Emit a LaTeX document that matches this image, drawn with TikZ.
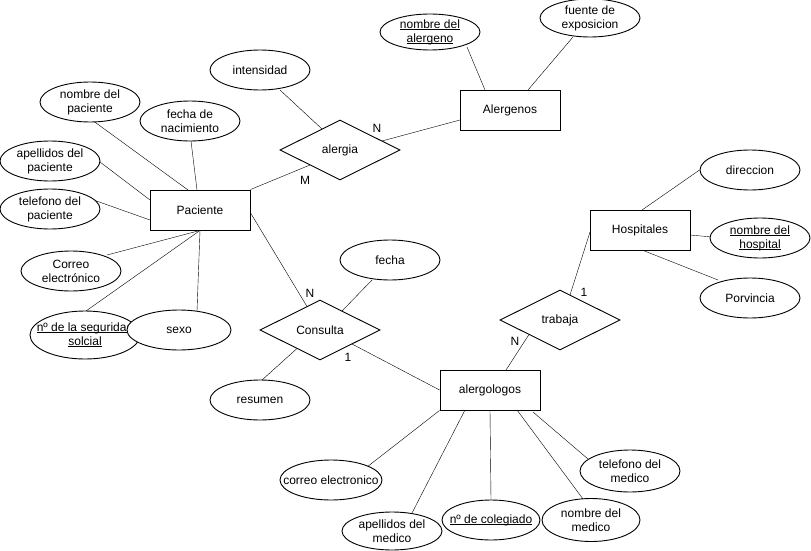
\documentclass[tikz,border=0pt]{standalone}
\usepackage{fontspec}
\setmainfont{Liberation Sans}
\usetikzlibrary{shapes.geometric,backgrounds}
\newsavebox\myulbox
\newcommand\ulx[1]{\sbox\myulbox{#1}\rlap{\rule[-1.8pt]{\wd\myulbox}{0.8pt}}\usebox\myulbox}
\newcommand\fsz{\fontsize{12}{14}\selectfont}
\tikzset{
  ent/.style={draw, rectangle, minimum width=100pt, minimum height=40pt, inner sep=0pt, fill=white, font=\fsz},
  att/.style={draw, ellipse, minimum width=100pt, minimum height=40pt, inner sep=0pt, fill=white},
  rel/.style={draw, diamond, minimum width=120pt, minimum height=60pt, inner sep=0pt, fill=white, font=\fsz},
  lbl/.style={align=center, font=\fsz, inner sep=0pt},
  card/.style={font=\fsz, inner sep=0pt}
}
\begin{document}
\begin{tikzpicture}[x=1pt, y=-1pt, line width=0.9pt]
\useasboundingbox (0,0) rectangle (811,551);
% entities
\node[ent] (pac) at (200,210) {Paciente};
\node[ent] (ale) at (510,110) {Alergenos};
\node[ent] (hos) at (640,230) {Hospitales};
\node[ent] (alg) at (490,390) {alergologos};
% relations
\node[rel] (alergia) at (340,150) {alergia};
\node[rel] (cons) at (320,330) {Consulta};
\node[rel] (trab) at (560,320) {trabaja};
% attributes of Paciente
\node[att, label={[lbl]center:nombre del\\paciente}] (nomPac) at (90,102) {};
\node[att, label={[lbl]center:fecha de\\nacimiento}] (fecNac) at (190,121) {};
\node[att, label={[lbl]center:apellidos del\\paciente}] (apePac) at (50,161) {};
\node[att, label={[lbl]center:telefono del\\paciente}] (telPac) at (50,209) {};
\node[att, label={[lbl]center:Correo\\electrónico}] (corPac) at (71,271) {};
\node[att, minimum width=110pt, minimum height=48pt, label={[lbl]center:\ulx{nº de la seguridad}\\\ulx{solcial}}] (nss) at (85,335) {};
\node[att, minimum width=104pt, label={[lbl]center:sexo}] (sexo) at (179,330) {};
% attributes of alergia / Alergenos
\node[att, label={[lbl]center:intensidad}] (inten) at (260,70) {};
\node[att, minimum height=36pt, label={[lbl]center:\ulx{nombre del}\\\ulx{alergeno}}] (nomAle) at (430,32) {};
\node[att, minimum height=38pt, label={[lbl]center:fuente de\\exposicion}] (fuente) at (590,18) {};
% Hospitales
\node[att, label={[lbl]center:direccion}] (dir) at (750,170) {};
\node[att, label={[lbl]center:\ulx{nombre del}\\\ulx{hospital}}] (nomHos) at (760,238) {};
\node[att, label={[lbl]center:Porvincia}] (prov) at (750,298) {};
% Consulta
\node[att, label={[lbl]center:fecha}] (fecha) at (390,260) {};
\node[att, label={[lbl]center:resumen}] (resumen) at (260,400) {};
% alergologos
\node[att, minimum width=102pt, label={[lbl]center:correo electronico}] (corMed) at (331,480) {};
\node[att, minimum height=38pt, label={[lbl]center:apellidos del\\medico}] (apeMed) at (392,531) {};
\node[att, minimum width=98pt, label={[lbl]center:\ulx{nº de colegiado}}] (coleg) at (491,520) {};
\node[att, minimum width=98pt, minimum height=43pt, label={[lbl]center:nombre del\\medico}] (nomMed) at (591,520) {};
\node[att, minimum height=42pt, label={[lbl]center:telefono del\\medico}] (telMed) at (630,471) {};
% cardinalities
\node[card] (cM) at (305,180) {M};
\node[card] (cN1) at (377,128) {N};
\node[card] (cN2) at (310,293) {N};
\node[card] (c11) at (348,357) {1};
\node[card] (c12) at (584,292) {1};
\node[card] (cN3) at (515,341) {N};
% connectors
\begin{scope}[on background layer]
\fill[white] (0,0) rectangle (811,551);
\draw ([shift={(2,18)}]nomPac.center) -- ([shift={(-12,-20)}]pac.center);
\draw ([shift={(1,20)}]fecNac.center) -- ([shift={(-3,-20)}]pac.center);
\draw ([shift={(50,1)}]apePac.center) -- ([shift={(-50,-10)}]pac.center);
\draw ([shift={(38,-11)}]telPac.center) -- ([shift={(-50,10)}]pac.center);
\draw ([shift={(36,-16)}]corPac.center) -- (pac.south);
\draw ([shift={(1,-24)}]nss.center) -- (pac.south);
\draw ([shift={(18,-19)}]sexo.center) -- (pac.south);
\draw (pac.north east) -- ([shift={(-30,15)}]alergia.center);
\draw ([shift={(20,20)}]inten.center) -- ([shift={(-18,-21)}]alergia.center);
\draw ([shift={(42,-9)}]alergia.center) -- ([shift={(-50,10)}]ale.center);
\draw ([shift={(37,15)}]nomAle.center) -- ([shift={(-25,-20)}]ale.center);
\draw ([shift={(-17,19)}]fuente.center) -- ([shift={(18,-20)}]ale.center);
\draw ([shift={(50,2)}]pac.center) -- ([shift={(-13,-23.5)}]cons.center);
\draw ([shift={(-18,20)}]fecha.center) -- ([shift={(22,-19)}]cons.center);
\draw ([shift={(2,-20)}]resumen.center) -- ([shift={(-23,18.5)}]cons.center);
\draw ([shift={(32,14)}]cons.center) -- (alg.west);
\draw ([shift={(-50,2)}]hos.center) -- ([shift={(10,-25)}]trab.center);
\draw ([shift={(-31,14.5)}]trab.center) -- ([shift={(16,-20)}]alg.center);
\draw ([shift={(2,-20)}]hos.center) -- (dir.west);
\draw ([shift={(50,5)}]hos.center) -- ([shift={(-48,-1)}]nomHos.center);
\draw ([shift={(2,20)}]hos.center) -- ([shift={(-32,-18)}]prov.center);
\draw (alg.south west) -- ([shift={(36,-13)}]corMed.center);
\draw ([shift={(-25,20)}]alg.center) -- ([shift={(20,-18)}]apeMed.center);
\draw (alg.south) -- (coleg.north);
\draw ([shift={(27,20)}]alg.center) -- ([shift={(-8,-21)}]nomMed.center);
\draw ([shift={(43,22)}]alg.center) -- ([shift={(-42,-12)}]telMed.center);
\end{scope}
\end{tikzpicture}
\end{document}
